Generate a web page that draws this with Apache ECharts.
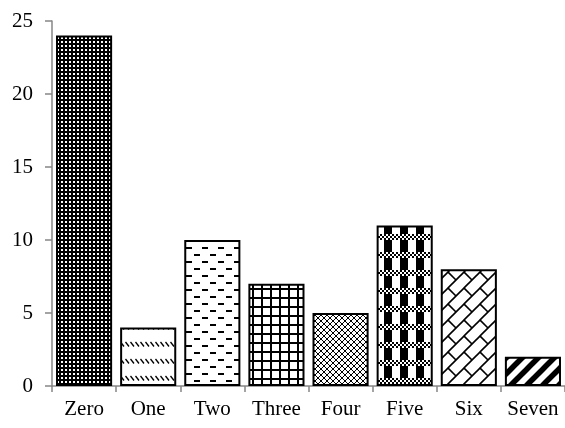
<!DOCTYPE html>
<html>
<head>
<meta charset="utf-8">
<script src="https://cdn.jsdelivr.net/npm/echarts@6/dist/echarts.min.js"></script>
<style>
  html, body { margin: 0; padding: 0; background: #fff; }
  #chart { width: 565px; height: 428px; }
</style>
</head>
<body>
<div id="chart"></div>
<script>
const categories = ['Zero', 'One', 'Two', 'Three', 'Four', 'Five', 'Six', 'Seven'];
const counts = [24, 4, 10, 7, 5, 11, 8, 2];
const yTicks = { min: 0, max: 25, interval: 5 };

// Small canvas tiles used as repeating hatch fills for the bars
function tile(w, h, draw) {
  const c = document.createElement('canvas');
  c.width = w; c.height = h;
  const g = c.getContext('2d');
  g.fillStyle = '#fff';
  g.fillRect(0, 0, w, h);
  draw(g, w, h);
  return { image: c, repeat: 'repeat' };
}

function line(g, x1, y1, x2, y2) {
  g.beginPath(); g.moveTo(x1, y1); g.lineTo(x2, y2); g.stroke();
}

const fills = [
  // dark with white dots
  tile(4, 4, (g) => {
    g.fillStyle = '#000'; g.fillRect(0, 0, 4, 4);
    g.fillStyle = '#fff'; g.fillRect(1, 1, 2, 2);
  }),
  // dashed downward diagonal rows
  tile(5, 17, (g) => {
    g.strokeStyle = '#000'; g.lineWidth = 1.3;
    line(g, 0.5, 2, 4, 6.5);
  }),
  // staggered horizontal dashes
  tile(16, 14, (g) => {
    g.fillStyle = '#000';
    g.fillRect(2, 2, 6, 2);
    g.fillRect(10, 9, 6, 2);
  }),
  // square grid
  tile(9, 9, (g) => {
    g.fillStyle = '#000';
    g.fillRect(0, 0, 2, 9);
    g.fillRect(0, 0, 9, 2);
  }),
  // small diamond lattice
  tile(6, 6, (g) => {
    g.strokeStyle = '#000'; g.lineWidth = 1;
    line(g, -1, -1, 7, 7);
    line(g, -1, 7, 7, -1);
  }),
  // vertical stripes crossed by checkered bands
  tile(16, 18, (g) => {
    g.fillStyle = '#000';
    g.fillRect(0, 0, 8, 18);
    g.fillStyle = '#fff';
    g.fillRect(0, 0, 16, 6);
    g.fillStyle = '#000';
    for (let y = 0; y < 6; y += 2) {
      for (let x = 0; x < 16; x += 2) {
        if (((x + y) / 2) % 2 === 0) g.fillRect(x, y, 2, 2);
      }
    }
  }),
  // diagonal brick
  tile(16, 16, (g) => {
    g.strokeStyle = '#000'; g.lineWidth = 1.6;
    line(g, -2, 18, 18, -2);
    line(g, -2, 2, 2, -2);
    line(g, 14, 18, 18, 14);
    line(g, 0, 0, 8, 8);
    line(g, 16, 16, 24, 24);
  }),
  // wide upward diagonal stripes
  tile(16, 16, (g) => {
    g.strokeStyle = '#000'; g.lineWidth = 5.5;
    line(g, -4, 20, 20, -4);
    line(g, -4, 4, 4, -4);
    line(g, 12, 20, 20, 12);
  })
];

const axisGray = '#868686';
const font = 'Liberation Serif';

const chart = echarts.init(document.getElementById('chart'), null, { renderer: 'canvas' });
chart.setOption({
  animation: false,
  grid: { left: 52, right: 0, top: 21, bottom: 42 },
  xAxis: {
    type: 'category',
    data: categories,
    axisLine: { lineStyle: { color: axisGray, width: 1.5 } },
    axisTick: { show: true, length: 6, lineStyle: { color: axisGray, width: 1.5 } },
    axisLabel: { color: '#000', fontFamily: font, fontSize: 21, margin: 13, interval: 0 }
  },
  yAxis: {
    type: 'value',
    min: yTicks.min, max: yTicks.max, interval: yTicks.interval,
    splitLine: { show: false },
    axisLine: { show: true, lineStyle: { color: axisGray, width: 1.5 } },
    axisTick: { show: true, length: 7, lineStyle: { color: axisGray, width: 1.5 } },
    axisLabel: { color: '#000', fontFamily: font, fontSize: 21, margin: 19 }
  },
  series: [{
    type: 'bar',
    barCategoryGap: '12.5%',
    data: counts.map((v, i) => ({
      value: v,
      itemStyle: { color: fills[i], borderColor: '#000', borderWidth: 2 }
    }))
  }]
});
</script>
</body>
</html>
